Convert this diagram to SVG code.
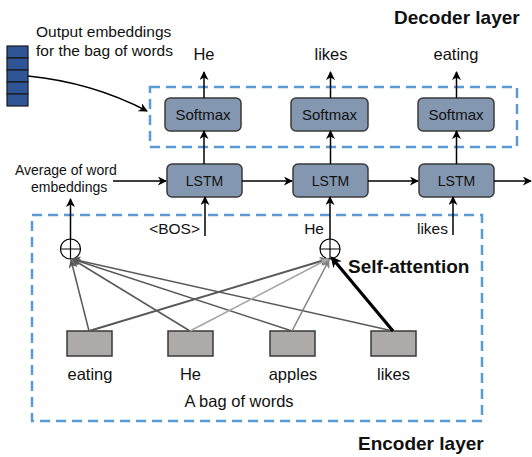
<svg xmlns="http://www.w3.org/2000/svg" width="532" height="457" viewBox="0 0 532 457">
<defs>
<style>
text{font-family:"Liberation Sans",Arial,sans-serif;fill:#111}
.blk{stroke:#000;stroke-width:1.5;fill:none}
.dash{fill:none;stroke:#5B9BD5;stroke-width:2.5;stroke-dasharray:10 6}
.unit{fill:#8497B0;stroke:#3a3a3a;stroke-width:1.5}
.word{fill:#AEAAAA;stroke:#3a3a3a;stroke-width:1.5}
.cell{fill:#2F5597;stroke:#1a1a1a;stroke-width:1.2}
.bold{font-weight:bold;font-size:19px}
.w{font-size:16.5px;text-anchor:middle}
.in{font-size:15.5px;text-anchor:end}
</style>
<marker id="ab" viewBox="0 0 10 10" refX="9" refY="5" markerWidth="9" markerHeight="9" markerUnits="userSpaceOnUse" orient="auto"><path d="M0,0 L10,5 L0,10 L3,5 Z" fill="#000"/></marker>
<marker id="ad" viewBox="0 0 10 10" refX="9" refY="5" markerWidth="9" markerHeight="9" markerUnits="userSpaceOnUse" orient="auto"><path d="M0,0 L10,5 L0,10 L3,5 Z" fill="#595959"/></marker>
<marker id="al" viewBox="0 0 10 10" refX="9" refY="5" markerWidth="9" markerHeight="9" markerUnits="userSpaceOnUse" orient="auto"><path d="M0,0 L10,5 L0,10 L3,5 Z" fill="#A6A6A6"/></marker>
<marker id="am" viewBox="0 0 10 10" refX="9" refY="5" markerWidth="9" markerHeight="9" markerUnits="userSpaceOnUse" orient="auto"><path d="M0,0 L10,5 L0,10 L3,5 Z" fill="#808080"/></marker>
<marker id="at" viewBox="0 0 10 10" refX="8" refY="5" markerWidth="11" markerHeight="11" markerUnits="userSpaceOnUse" orient="auto"><path d="M0,0 L10,5 L0,10 L3,5 Z" fill="#000"/></marker>
</defs>
<rect width="532" height="457" fill="#fff"/>

<g id="decoder-layer">
<rect class="dash" x="150" y="87" width="367" height="60"/>
<text class="bold" x="394" y="24">Decoder layer</text>
</g>
<g id="encoder-layer">
<rect class="dash" x="32" y="215" width="450" height="206"/>
<text class="bold" x="358" y="450">Encoder layer</text>
<text x="239" y="407" style="font-size:16.5px;text-anchor:middle">A bag of words</text>
</g>

<g id="output-embeddings">
<rect class="cell" x="7" y="46" width="21" height="12"/>
<rect class="cell" x="7" y="58" width="21" height="12"/>
<rect class="cell" x="7" y="70" width="21" height="12"/>
<rect class="cell" x="7" y="82" width="21" height="12"/>
<rect class="cell" x="7" y="94" width="21" height="12"/>
<text x="36" y="37" style="font-size:15.5px">Output embeddings</text>
<text x="36" y="56" style="font-size:15.5px">for the bag of words</text>
</g>

<g id="softmax1"><rect class="unit" x="165" y="98" width="76" height="33" rx="5"/><text x="203" y="119.5" style="font-size:15px;text-anchor:middle">Softmax</text></g>
<g id="softmax2"><rect class="unit" x="291" y="98" width="77" height="33" rx="5"/><text x="329.5" y="119.5" style="font-size:15px;text-anchor:middle">Softmax</text></g>
<g id="softmax3"><rect class="unit" x="418" y="98" width="76" height="33" rx="5"/><text x="456" y="119.5" style="font-size:15px;text-anchor:middle">Softmax</text></g>

<g id="lstm1"><rect class="unit" x="167" y="164" width="75" height="33" rx="5"/><text x="204.5" y="186" style="font-size:14px;text-anchor:middle">LSTM</text></g>
<g id="lstm2"><rect class="unit" x="293" y="164" width="75" height="33" rx="5"/><text x="330.5" y="186" style="font-size:14px;text-anchor:middle">LSTM</text></g>
<g id="lstm3"><rect class="unit" x="419" y="164" width="75" height="33" rx="5"/><text x="456.5" y="186" style="font-size:14px;text-anchor:middle">LSTM</text></g>

<g id="out-words">
<text class="w" x="204" y="60">He</text>
<text class="w" x="331" y="60">likes</text>
<text class="w" x="456" y="60">eating</text>
</g>

<g id="avg-label">
<text x="15" y="175" style="font-size:14px">Average of word</text>
<text x="31" y="192" style="font-size:14px">embeddings</text>
</g>

<g id="dec-inputs">
<text class="in" x="200" y="234">&lt;BOS&gt;</text>
<text class="in" x="324" y="234">He</text>
<text class="in" x="448" y="234">likes</text>
</g>

<g id="sum1"><circle cx="70.5" cy="249" r="10" fill="#fff" stroke="#000" stroke-width="1.2"/><path d="M60.5,249 H80.5 M70.5,239 V259" stroke="#000" stroke-width="1.2"/></g>
<g id="sum2"><circle cx="330" cy="249" r="10" fill="#fff" stroke="#000" stroke-width="1.2"/><path d="M320,249 H340 M330,239 V259" stroke="#000" stroke-width="1.2"/></g>

<g id="w-eating"><rect class="word" x="67" y="331" width="45" height="25"/><text class="w" x="90" y="380">eating</text></g>
<g id="w-he"><rect class="word" x="168" y="331" width="45" height="25"/><text class="w" x="190.5" y="380">He</text></g>
<g id="w-apples"><rect class="word" x="270" y="331" width="45" height="25"/><text class="w" x="293" y="380">apples</text></g>
<g id="w-likes"><rect class="word" x="371" y="331" width="45" height="25"/><text class="w" x="393.5" y="380">likes</text></g>

<text class="bold" x="348" y="273">Self-attention</text>

<g id="connectors">
<path class="blk" d="M28,76 Q92.5,82.5 147,111" marker-end="url(#ab)"/>
<path class="blk" d="M113,181 H166" marker-end="url(#ab)"/>
<path class="blk" d="M242,181 H292" marker-end="url(#ab)"/>
<path class="blk" d="M368,181 H418" marker-end="url(#ab)"/>
<path class="blk" d="M494,181 H531" marker-end="url(#ab)"/>
<path class="blk" d="M204,98 V72" marker-end="url(#ab)"/>
<path class="blk" d="M330.5,98 V72" marker-end="url(#ab)"/>
<path class="blk" d="M456.5,98 V72" marker-end="url(#ab)"/>
<path class="blk" d="M204,164 V131" marker-end="url(#ab)"/>
<path class="blk" d="M330.5,164 V131" marker-end="url(#ab)"/>
<path class="blk" d="M456.5,164 V131" marker-end="url(#ab)"/>
<path class="blk" d="M205,236 V197" marker-end="url(#ab)"/>
<path class="blk" d="M330,239 V197" marker-end="url(#ab)"/>
<path class="blk" d="M453,235 V197" marker-end="url(#ab)"/>
<path class="blk" d="M70.5,239 V199" marker-end="url(#ab)"/>
<g fill="none" stroke-width="1.5">
<path d="M89,331 L71,260" stroke="#595959" marker-end="url(#ad)"/>
<path d="M190,331 L72,259" stroke="#595959" marker-end="url(#ad)"/>
<path d="M292,331 L72,259" stroke="#595959" marker-end="url(#ad)"/>
<path d="M393,331 L72,259" stroke="#595959" marker-end="url(#ad)"/>
<path d="M89,331 L328,259" stroke="#595959" stroke-width="2" marker-end="url(#ad)"/>
<path d="M190,331 L328,259" stroke="#A6A6A6" marker-end="url(#al)"/>
<path d="M292,331 L329,260" stroke="#808080" marker-end="url(#am)"/>
<path d="M393,331 L332,258" stroke="#000" stroke-width="3.2" marker-end="url(#at)"/>
</g>
</g>
</svg>
